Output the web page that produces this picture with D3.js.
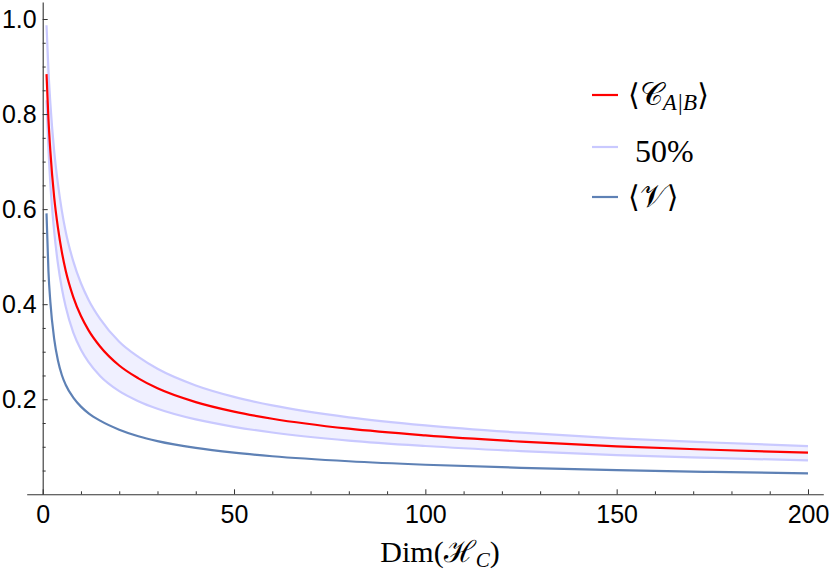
<!DOCTYPE html>
<html>
<head>
<meta charset="utf-8">
<script src="https://cdn.jsdelivr.net/npm/d3@7"></script>
<style>
  html, body { margin: 0; padding: 0; background: #fff; }
  svg { display: block; }
</style>
</head>
<body>
<svg id="chart" width="830" height="574"></svg>
<script>
// ---- data ----
const dims = [1, 1.5, 2, 3, 4, 5, 6, 8, 10, 12, 15, 20, 25, 30, 40, 50, 60, 80, 100, 125, 150, 175, 200];
const meanC = [0.884, 0.790, 0.722, 0.625, 0.560, 0.510, 0.471, 0.415, 0.375, 0.345, 0.311, 0.271, 0.244, 0.223, 0.194, 0.174, 0.159, 0.138, 0.124, 0.111, 0.101, 0.0937, 0.0875];
const upper50 = [0.987, 0.893, 0.823, 0.722, 0.652, 0.597, 0.553, 0.490, 0.444, 0.409, 0.369, 0.321, 0.289, 0.264, 0.229, 0.205, 0.187, 0.162, 0.145, 0.1296, 0.1177, 0.109, 0.1015];
const lower50 = [0.829, 0.727, 0.653, 0.553, 0.484, 0.4335, 0.395, 0.340, 0.304, 0.278, 0.249, 0.217, 0.196, 0.180, 0.1575, 0.142, 0.130, 0.113, 0.1016, 0.0908, 0.0825, 0.0765, 0.0713];
const meanV = [0.591, 0.470, 0.405, 0.327, 0.281, 0.251, 0.2305, 0.2035, 0.1845, 0.1705, 0.155, 0.136, 0.1222, 0.112, 0.0975, 0.0875, 0.080, 0.0695, 0.0622, 0.0557, 0.0509, 0.0471, 0.0441];

const xMajor = [0, 50, 100, 150, 200];
const xMinor = [10, 20, 30, 40, 60, 70, 80, 90, 110, 120, 130, 140, 160, 170, 180, 190];
const yMajor = [0.2, 0.4, 0.6, 0.8, 1.0];
const yMinor = [0.05, 0.1, 0.15, 0.25, 0.3, 0.35, 0.45, 0.5, 0.55, 0.65, 0.7, 0.75, 0.85, 0.9, 0.95];

// ---- drawing ----
const svg = d3.select("#chart");
const x = d3.scaleLinear().domain([-4.18, 204]).range([26.7, 823.3]);
const y = d3.scaleLinear().domain([0, 1.0358]).range([494.3, 2]);

const axisColor = "#333";
const fontSans = "'Liberation Sans', Arial, sans-serif";
const fontSerif = "'Liberation Serif', 'DejaVu Serif', serif";

// band fill
const area = d3.area()
  .x((d, i) => x(dims[i]))
  .y0((d, i) => y(lower50[i]))
  .y1((d, i) => y(upper50[i]))
  .curve(d3.curveMonotoneX);
svg.append("path").datum(dims).attr("d", area)
  .attr("fill", "#f0f0ff").attr("stroke", "none");

const line = vals => d3.line()
  .x((d, i) => x(dims[i]))
  .y((d, i) => y(vals[i]))
  .curve(d3.curveMonotoneX)(dims);

svg.append("path").attr("d", line(upper50)).attr("fill", "none")
  .attr("stroke", "#c9c9ff").attr("stroke-width", 2.2);
svg.append("path").attr("d", line(lower50)).attr("fill", "none")
  .attr("stroke", "#c9c9ff").attr("stroke-width", 2.2);
svg.append("path").attr("d", line(meanV)).attr("fill", "none")
  .attr("stroke", "#5e81b5").attr("stroke-width", 2.2);
svg.append("path").attr("d", line(meanC)).attr("fill", "none")
  .attr("stroke", "#ff0000").attr("stroke-width", 2.2);

// axes
function styleAxis(g) {
  g.select(".domain").attr("stroke", axisColor).attr("stroke-width", 1.1);
  g.selectAll(".tick line").attr("stroke", axisColor).attr("stroke-width", 1);
  g.selectAll("text").attr("fill", "#000").attr("font-family", fontSans).attr("font-size", 25);
}

const gx = svg.append("g").attr("transform", `translate(0,${y(0)})`)
  .call(d3.axisBottom(x).tickValues(xMajor).tickSize(-5).tickSizeOuter(0).tickPadding(11).tickFormat(d3.format("d")));
styleAxis(gx);
const gxm = svg.append("g").attr("transform", `translate(0,${y(0)})`)
  .call(d3.axisBottom(x).tickValues(xMinor).tickSize(-3).tickSizeOuter(0).tickFormat(""));
styleAxis(gxm);
gxm.select(".domain").remove();

const gy = svg.append("g").attr("transform", `translate(${x(0)},0)`)
  .call(d3.axisLeft(y).tickValues(yMajor).tickSize(-5).tickSizeOuter(0).tickPadding(6).tickFormat(d3.format(".1f")));
styleAxis(gy);
const gym = svg.append("g").attr("transform", `translate(${x(0)},0)`)
  .call(d3.axisLeft(y).tickValues(yMinor).tickSize(-3).tickSizeOuter(0).tickFormat(""));
styleAxis(gym);
gym.select(".domain").remove();

// x axis title
const xt = svg.append("text").attr("x", 440).attr("y", 561.5)
  .attr("text-anchor", "middle").attr("font-family", fontSerif).attr("font-size", 30).attr("fill", "#000");
xt.append("tspan").text("Dim(");
xt.append("tspan").text("ℋ");
xt.append("tspan").attr("font-style", "italic").attr("font-size", 21).attr("dy", 5).text("C");
xt.append("tspan").attr("dy", -5).text(")");

// legend
const legend = [
  { color: "#ff0000", y: 95 },
  { color: "#c9c9ff", y: 147 },
  { color: "#5e81b5", y: 197 }
];
legend.forEach(l => {
  svg.append("line").attr("x1", 592).attr("x2", 618).attr("y1", l.y).attr("y2", l.y)
    .attr("stroke", l.color).attr("stroke-width", 2.2);
});

const t1 = svg.append("text").attr("x", 628).attr("y", 105)
  .attr("font-family", fontSerif).attr("font-size", 32).attr("fill", "#000");
t1.append("tspan").attr("font-family", "'DejaVu Serif', serif").attr("font-size", 30).text("⟨");
t1.append("tspan").text("𝒞");
t1.append("tspan").attr("font-style", "italic").attr("font-size", 23).attr("dy", 5).text("A|B");
t1.append("tspan").attr("dy", -5).attr("font-family", "'DejaVu Serif', serif").attr("font-size", 30).text("⟩");

svg.append("text").attr("x", 635).attr("y", 162)
  .attr("font-family", fontSerif).attr("font-size", 32).attr("fill", "#000").text("50%");

const t3 = svg.append("text").attr("x", 628).attr("y", 207)
  .attr("font-family", fontSerif).attr("font-size", 32).attr("fill", "#000");
t3.append("tspan").attr("font-family", "'DejaVu Serif', serif").attr("font-size", 30).text("⟨");
t3.append("tspan").text("𝒱");
t3.append("tspan").attr("font-family", "'DejaVu Serif', serif").attr("font-size", 30).text("⟩");
</script>
</body>
</html>
